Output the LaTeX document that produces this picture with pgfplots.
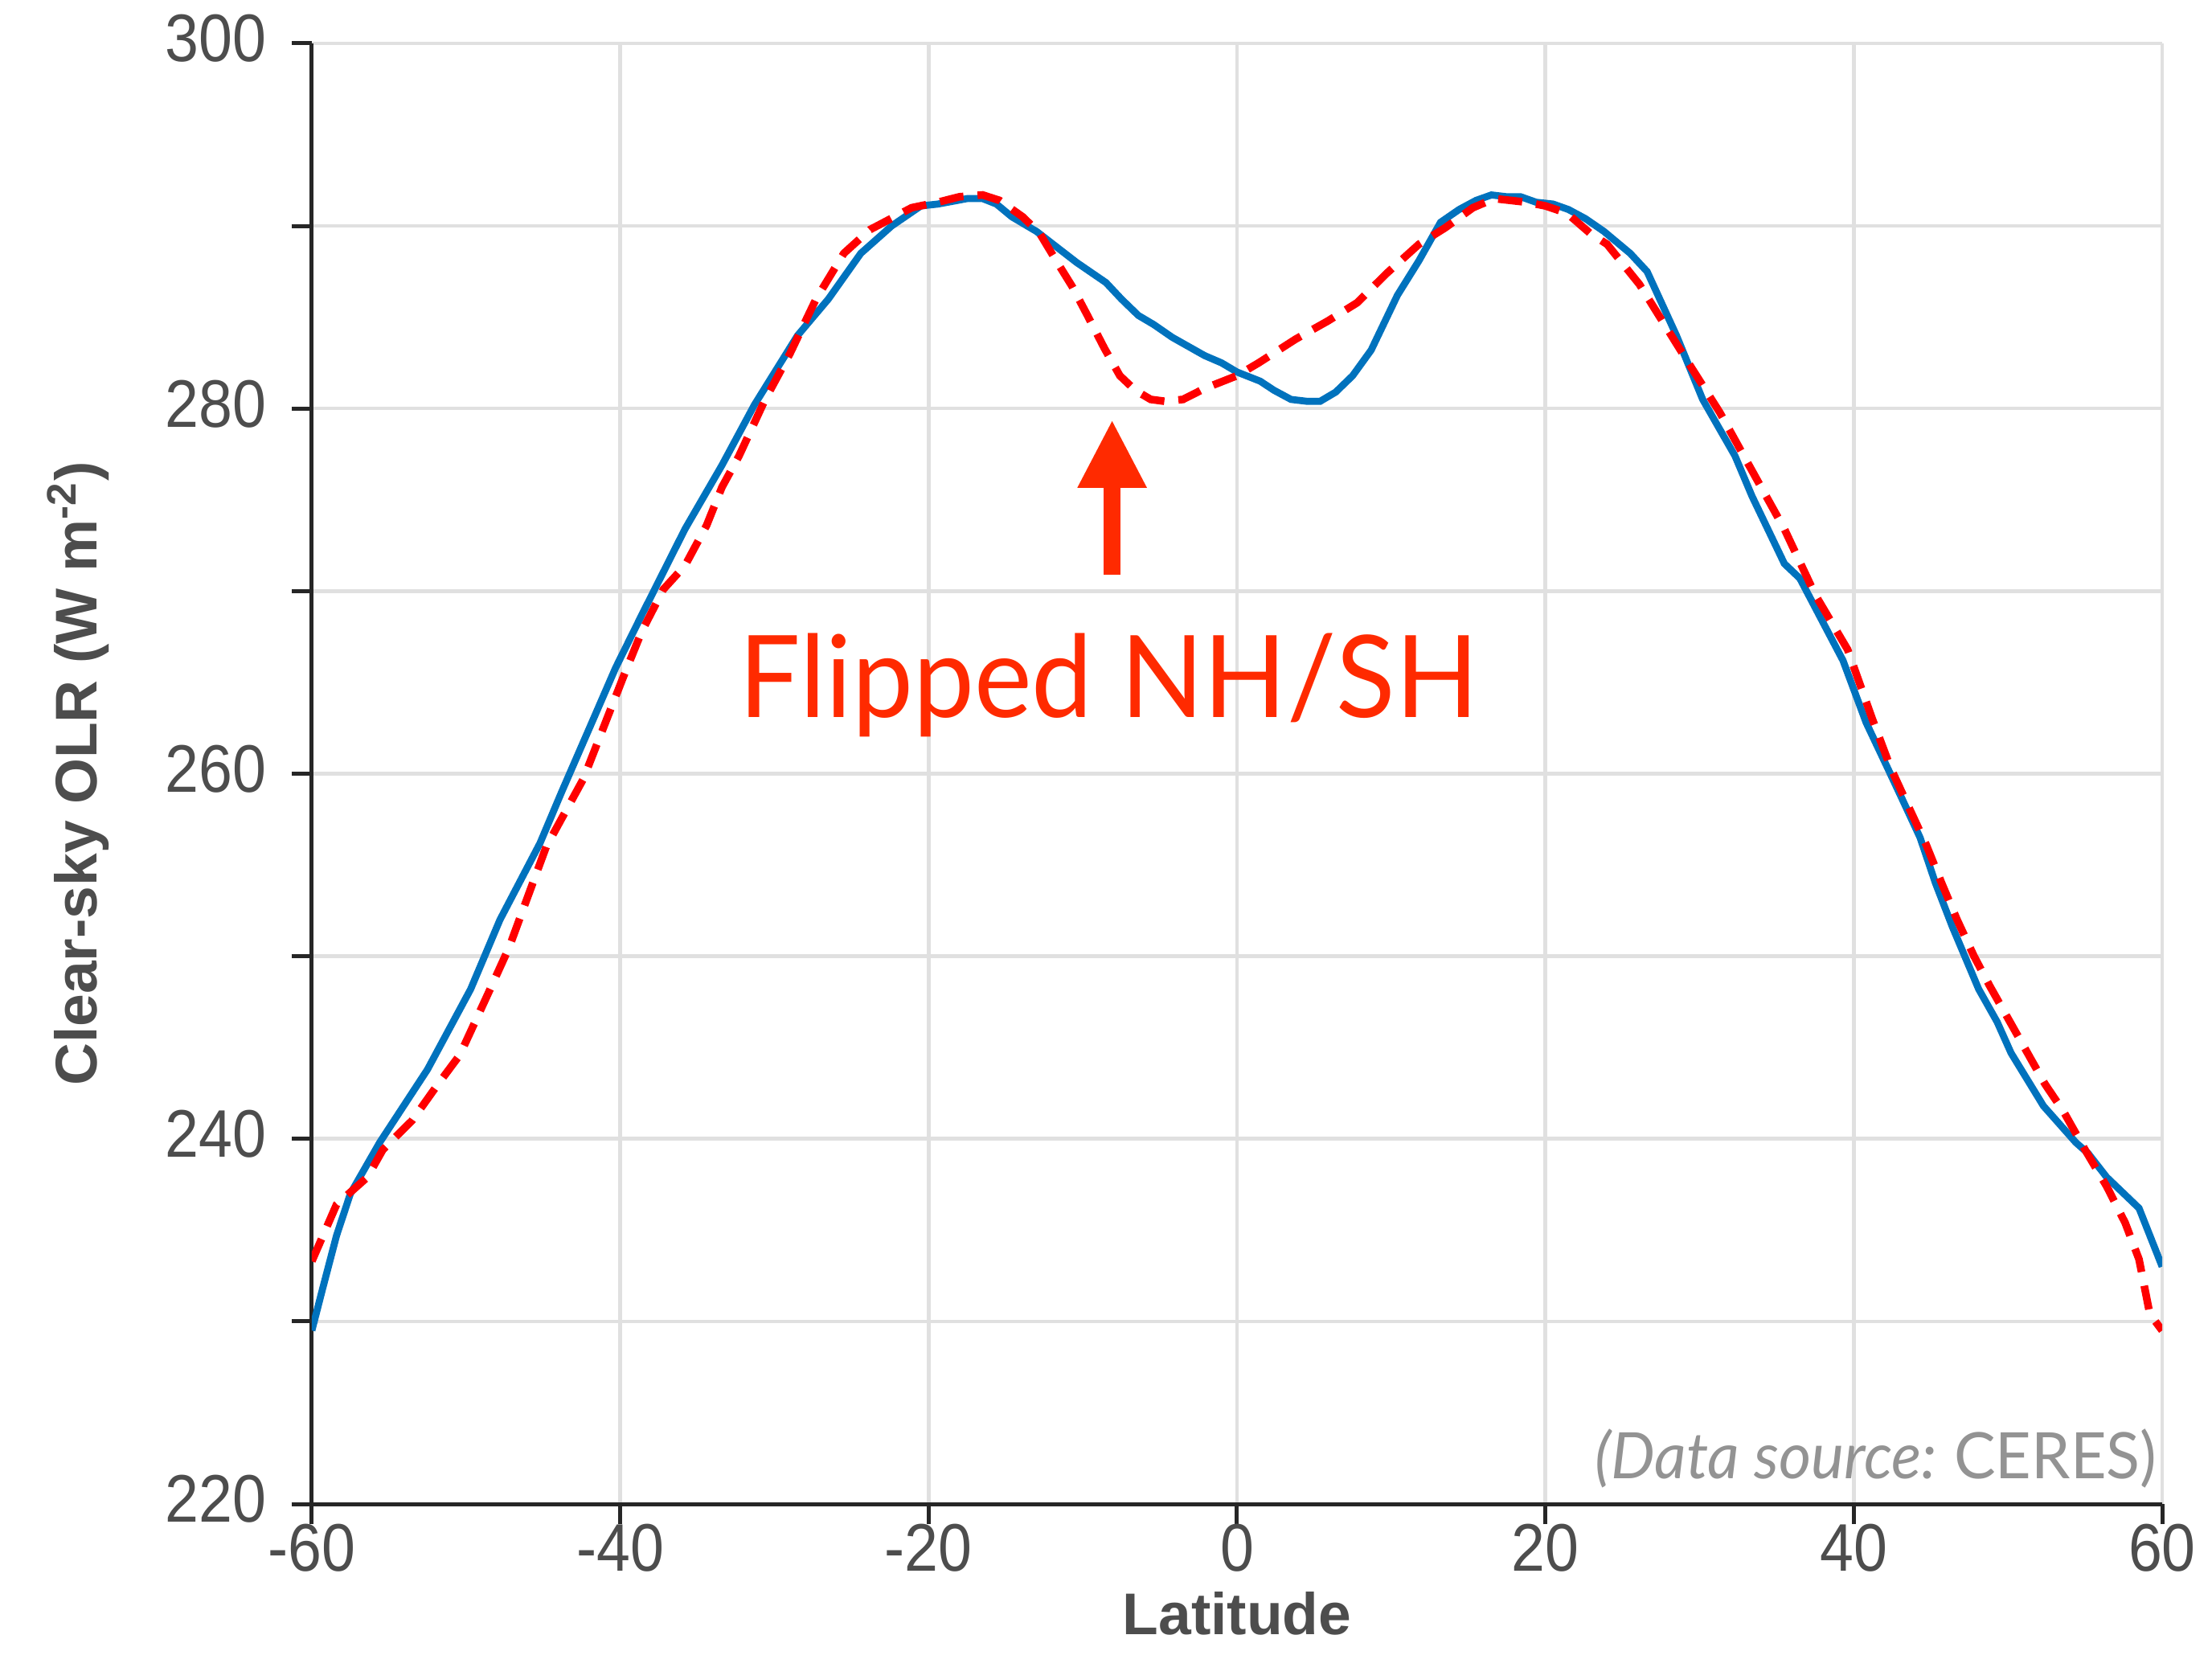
\documentclass[border=0pt]{standalone}
\usepackage{fontspec}
\setmainfont{Liberation Sans}
\newfontfamily\tickfont[FakeStretch=0.9]{Liberation Sans}
\newfontfamily\gill[FakeStretch=0.955]{Lato}
\newfontfamily\gillsrc[FakeStretch=0.97]{Lato}
\usepackage{pgfplots}
\pgfplotsset{compat=1.18}
\usetikzlibrary{arrows.meta}
\definecolor{mblue}{HTML}{0072BD}
\definecolor{mred}{HTML}{FF0000}
\definecolor{arrred}{HTML}{FF2A00}
\definecolor{srcgrey}{HTML}{939393}
\definecolor{labgrey}{HTML}{4D4D4D}
\definecolor{axblack}{HTML}{262626}
\definecolor{gridgrey}{HTML}{E0E0E0}
\begin{document}
\begin{tikzpicture}
\begin{axis}[
  scale only axis, width=460.4bp, height=363.4bp,
  xmin=-60, xmax=60, ymin=220, ymax=300,
  axis x line*=bottom, axis y line*=left,
  axis line style={line width=1bp, color=axblack},
  xtick={-60,-40,...,60}, xticklabels={-60,-40,-20,0,20,40,60},
  ytick={220,230,...,300}, yticklabels={220,,240,,260,,280,,300},
  tick style={line width=1bp, color=axblack},
  tick align=outside, major tick length=5bp,
  grid=major, major grid style={line width=0.9bp, color=gridgrey},
  ticklabel style={font=\tickfont\fontsize{16.8}{18}\selectfont, text=labgrey},
  xticklabel style={yshift=3.5bp},
  yticklabel style={xshift=-2.8bp, yshift=1.2bp},
  xlabel={Latitude},
  ylabel={Clear-sky OLR (W m\textsuperscript{-2})},
  label style={font=\bfseries\fontsize{14.7}{16}\selectfont, text=labgrey},
  xlabel style={at={(axis description cs:0.5,-0.0897)}, anchor=base},
  ylabel style={at={(axis description cs:-0.1164,0.5)}, anchor=base},
]
\addplot[color=mblue, line width=1.75bp] coordinates {
(-60,229.5) (-59.3,231.8) (-58.4,234.7) (-57.5,237.0) (-55.6,239.8)
(-52.5,243.8) (-49.7,248.2) (-47.8,252.0) (-45.2,256.2) (-43.8,259.0)
(-42.1,262.3) (-40.3,265.8) (-38.6,268.7) (-35.8,273.4) (-33.4,276.9)
(-31.3,280.2) (-28.5,284.0) (-26.5,286.0) (-24.4,288.5) (-22.4,290.0)
(-20.5,291.1) (-19.4,291.2) (-17.5,291.5) (-16.5,291.5) (-15.6,291.2)
(-14.6,290.5) (-13.0,289.7) (-10.4,288.0) (-8.5,286.9) (-7.5,286.0)
(-6.4,285.1) (-5.4,284.6) (-4.2,283.9) (-2.1,282.9) (-1.0,282.5)
(0,282.0) (1.5,281.5) (2.4,281.0) (3.5,280.5) (4.5,280.4)
(5.4,280.4) (6.4,280.9) (7.5,281.8) (8.7,283.2) (10.4,286.2)
(11.8,288.1) (13.2,290.2) (14.4,290.9) (15.5,291.4) (16.5,291.7)
(17.5,291.6) (18.4,291.6) (19.4,291.3) (20.5,291.2) (21.5,290.9)
(22.6,290.4) (23.8,289.7) (25.5,288.5) (26.6,287.5) (28.5,284.0)
(30.2,280.5) (32.3,277.4) (33.4,275.2) (35.5,271.5) (36.5,270.7)
(39.3,266.2) (40.8,262.8) (42.2,260.3) (43.2,258.5) (44.3,256.5)
(45.3,254.0) (46.4,251.6) (48.1,248.2) (49.3,246.4) (50.2,244.7)
(52.3,241.8) (54.4,239.8) (55.2,239.2) (56.4,237.9) (58.5,236.2)
(60.0,233.0)
};
\addplot[color=mred, line width=1.9bp, dash pattern=on 6bp off 3.5bp] coordinates {
(-60,233.3) (-58.4,236.4) (-56.4,237.9) (-55.4,239.4) (-53.5,241.0)
(-51.9,242.9) (-50.4,244.6) (-48.6,247.9) (-47.2,250.5) (-46.2,252.8)
(-44.8,256.0) (-42.4,259.7) (-39.8,265.3) (-38.6,267.8) (-37.2,270.1)
(-35.8,271.4) (-34.4,273.6) (-33.4,275.7) (-32.3,277.4) (-30.6,280.5)
(-29.0,283.0) (-27.3,286.0) (-25.5,288.5) (-23.8,289.8) (-22.9,290.2)
(-21.1,291.0) (-19.4,291.3) (-18.0,291.6) (-16.5,291.7) (-15.4,291.4)
(-13.9,290.5) (-12.8,289.6) (-11.8,288.2) (-10.7,286.7) (-9.7,285.1)
(-8.6,283.3) (-7.6,281.8) (-6.6,281.0) (-5.6,280.5) (-4.7,280.4)
(-3.5,280.5) (-2.1,281.1) (0,281.8) (1.4,282.5) (3.8,283.8)
(5.9,284.8) (7.8,285.8) (9.7,287.4) (11.8,289.0) (13.5,289.9)
(15.3,291.0) (16.7,291.5) (18.8,291.3) (20.0,291.1) (21.4,290.7)
(22.9,289.6) (24.0,289.0) (26.1,286.8) (27.8,284.5) (29.5,282.2)
(31.3,279.8) (33.2,276.9) (35.5,273.4) (37.5,269.8) (39.6,266.8)
(41.2,263.0) (42.4,260.3) (43.6,258.1) (44.7,256.1) (45.7,254.0)
(46.7,252.0) (47.8,250.0) (48.8,248.4) (50.0,246.6) (51.2,244.8)
(52.4,243.0) (53.6,241.5) (55.0,239.4) (56.4,237.4) (57.6,235.4)
(58.5,233.4) (59.2,230.4) (60,229.5)
};
\draw[line width=4.2bp, arrred, -{Triangle[width=16bp,length=17bp]}]
  (axis cs:-8.1,270.9) -- (axis cs:-8.1,279.4);
\node[anchor=base, text=arrred, inner sep=0pt, font=\gill\fontsize{28.5}{30}\selectfont]
  at (axis cs:-8.3,263.1) {Flipped NH/SH};
\node[anchor=base east, text=srcgrey, inner sep=0pt, font=\gillsrc\fontsize{16}{18}\selectfont]
  at (axis cs:59.7,221.4) {\textit{(Data source:}\hspace{-1pt} CERES)};
\end{axis}
\pgfresetboundingbox
\path ([shift={(-77.6bp,-43.8bp)}]current axis.south west) rectangle ([shift={(12.4bp,10.8bp)}]current axis.north east);
\end{tikzpicture}
\end{document}
